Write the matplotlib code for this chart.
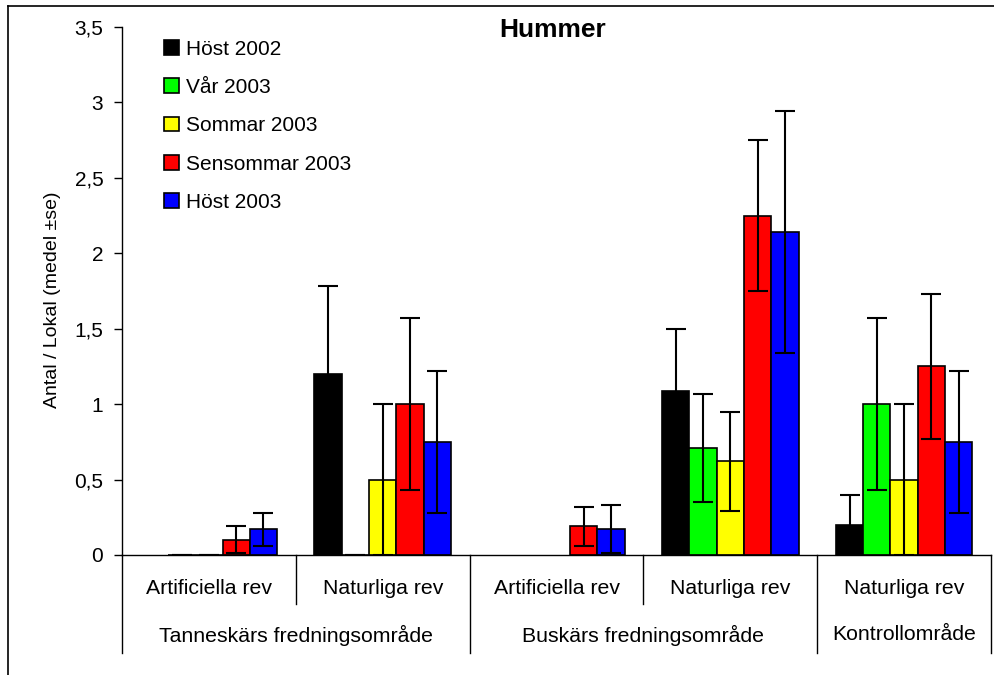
import numpy as np
import matplotlib.pyplot as plt
from matplotlib.lines import Line2D
from matplotlib.ticker import FuncFormatter

plt.rcParams['font.family'] = ['Liberation Sans', 'DejaVu Sans']

# kategorier (nivå 1 och nivå 2)
habitat = ['Artificiella rev', 'Naturliga rev', 'Artificiella rev', 'Naturliga rev', 'Naturliga rev']
omrade = ['Tanneskärs fredningsområde', 'Buskärs fredningsområde', 'Kontrollområde']
omrade_span = [(0, 1), (2, 3), (4, 4)]

serier = ['Höst 2002', 'Vår 2003', 'Sommar 2003', 'Sensommar 2003', 'Höst 2003']
farger = ['#000000', '#00ff00', '#ffff00', '#ff0000', '#0000ff']

# medel
host02 = [np.nan, 1.2, np.nan, 1.09, 0.2]
var03 = [0, 0, np.nan, 0.71, 1.0]
sommar03 = [0, 0.5, np.nan, 0.62, 0.5]
sensommar03 = [0.1, 1.0, 0.19, 2.25, 1.25]
host03 = [0.17, 0.75, 0.17, 2.14, 0.75]

# se
host02_se = [np.nan, 0.58, np.nan, 0.41, 0.2]
var03_se = [0, 0, np.nan, 0.36, 0.57]
sommar03_se = [0, 0.5, np.nan, 0.33, 0.5]
sensommar03_se = [0.09, 0.57, 0.13, 0.5, 0.48]
host03_se = [0.11, 0.47, 0.16, 0.8, 0.47]

medel = [host02, var03, sommar03, sensommar03, host03]
se = [host02_se, var03_se, sommar03_se, sensommar03_se, host03_se]

fs = 15.3

fig = plt.figure(figsize=(9.94, 6.75), dpi=100)
ax = fig.add_axes([122 / 994, 120 / 675, 869 / 994, 528 / 675])

x = np.arange(len(habitat))
w = 0.157
for i in range(len(serier)):
    xi = x + (i - 2) * w
    y = np.array(medel[i], dtype=float)
    e = np.array(se[i], dtype=float)
    ax.bar(xi, y, w, color=farger[i], edgecolor='black', linewidth=1.2, label=serier[i], zorder=2)
    ok = ~np.isnan(y)
    ax.errorbar(xi[ok], y[ok], yerr=e[ok], fmt='none', ecolor='black', elinewidth=1.5,
                capsize=7.5, capthick=1.5, zorder=3)

ax.set_xlim(-0.5, 4.5)
ax.set_ylim(0, 3.5)
ax.set_yticks(np.arange(0, 3.51, 0.5))
ax.yaxis.set_major_formatter(FuncFormatter(lambda v, p: ('%g' % v).replace('.', ',')))
ax.tick_params(axis='y', direction='out', length=6, width=1, labelsize=15, pad=7.5)
ax.set_xticks([])
for s in ['top', 'right']:
    ax.spines[s].set_visible(False)
ax.spines['left'].set_linewidth(1)
ax.spines['bottom'].set_linewidth(1)

ax.text(-0.08, 0.483, 'Antal / Lokal (medel ±se)', transform=ax.transAxes, rotation=90,
        ha='center', va='center', fontsize=14)
ax.text(0.496, 0.994, 'Hummer', transform=ax.transAxes, ha='center', va='center',
        fontsize=19, fontweight='bold')

# kategoriaxel i två nivåer
tr = ax.get_xaxis_transform()
for k, lab in enumerate(habitat):
    ax.text(k, -0.0625, lab, transform=tr, ha='center', va='center', fontsize=fs)
for k, lab in enumerate(omrade):
    a, b = omrade_span[k]
    ax.text((a + b) / 2, -0.1515, lab, transform=tr, ha='center', va='center', fontsize=fs)
for xs in [-0.5, 1.5, 3.5, 4.5]:
    ax.add_line(Line2D([xs, xs], [0, -0.1856], transform=tr, color='black', lw=1, clip_on=False))
for xs in [0.5, 2.5]:
    ax.add_line(Line2D([xs, xs], [0, -0.0928], transform=tr, color='black', lw=1, clip_on=False))

leg = ax.legend(loc='upper left', bbox_to_anchor=(0.039, 0.992), frameon=False, fontsize=15,
                handlelength=0.7, handleheight=0.7, handletextpad=0.35, labelspacing=0.93,
                borderaxespad=0)

# yttre ram
fig.add_artist(Line2D([8 / 994, 8 / 994], [0, 1 - 6 / 675], color='black', lw=1.2))
fig.add_artist(Line2D([8 / 994, 1], [1 - 6 / 675, 1 - 6 / 675], color='black', lw=1.2))

fig.savefig('out.png', dpi=100)
